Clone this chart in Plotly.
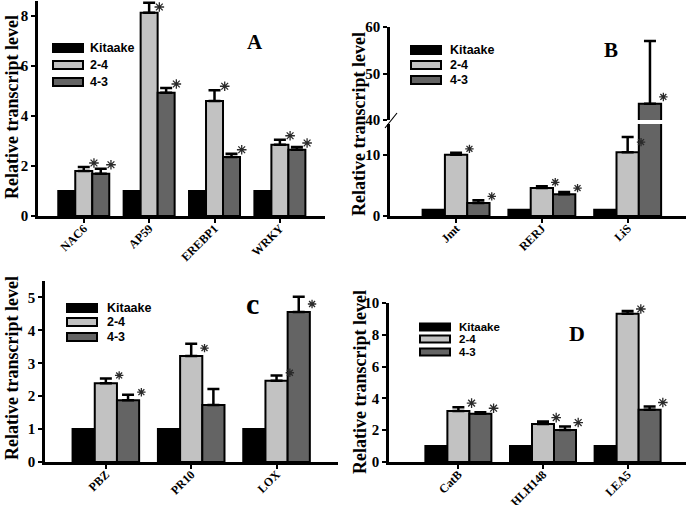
import plotly.graph_objects as go

W, H = 688, 505
SERIES = ["Kitaake", "2-4", "4-3"]
COLORS = ["#000000", "#c2c2c2", "#646464"]

# Panel A
A_GENES = ["NAC6", "AP59", "EREBP1", "WRKY"]
A_KIT = [1, 1, 1, 1]
A_24 = [1.80, 8.13, 4.60, 2.85]
A_43 = [1.69, 4.93, 2.36, 2.65]
A_24_ERR = [0.16, 0.40, 0.43, 0.20]
A_43_ERR = [0.20, 0.19, 0.13, 0.11]
A_SIG24 = [1, 1, 1, 1]
A_SIG43 = [1, 1, 1, 1]
A_YTICKS = [0, 2, 4, 6, 8]

# Panel B
B_GENES = ["Jmt", "RERJ", "LiS"]
B_KIT = [1, 1, 1]
B_24 = [10.0, 4.57, 10.4]
B_43 = [2.1, 3.53, 43.5]
B_24_ERR = [0.3, 0.27, 2.5]
B_43_ERR = [0.45, 0.37, 13.5]
B_SIG24 = [1, 1, 1]
B_SIG43 = [1, 1, 1]
B_YTICKS_LOW = [0, 10]
B_YTICKS_HIGH = [40, 50, 60]

# Panel C
C_GENES = ["PBZ", "PR10", "LOX"]
C_KIT = [1, 1, 1]
C_24 = [2.39, 3.22, 2.47]
C_43 = [1.88, 1.73, 4.56]
C_24_ERR = [0.15, 0.37, 0.16]
C_43_ERR = [0.16, 0.49, 0.46]
C_SIG24 = [1, 1, 1]
C_SIG43 = [1, 0, 1]
C_YTICKS = [0, 1, 2, 3, 4, 5]

# Panel D
D_GENES = ["CatB", "HLH148", "LEA5"]
D_KIT = [1, 1, 1]
D_24 = [3.21, 2.39, 9.33]
D_43 = [3.03, 2.02, 3.28]
D_24_ERR = [0.24, 0.15, 0.17]
D_43_ERR = [0.10, 0.21, 0.21]
D_SIG24 = [1, 1, 1]
D_SIG43 = [1, 1, 1]
D_YTICKS = [0, 2, 4, 6, 8, 10]


def X(px):
    return px / W


def Y(py):
    return 1 - py / H


SERIF = "Liberation Serif"
SANS = "Liberation Sans"
BW = 0.26
B_SPLIT = 15

fig = go.Figure()
annotations = []
shapes = []


def add_panel(xa, ya, genes, vals, errs, sigs, ygeo, star_clamp=None, star_size=8,
              star_pred=None):
    n = len(genes)
    (y0px, y1px), (r0, r1) = ygeo
    upp = (r1 - r0) / (y0px - y1px)  # data units per pixel
    sx, sy = [], []
    for j, (name, color) in enumerate(zip(SERIES, COLORS)):
        xs = [i + (j - 1) * BW for i in range(n)]
        e = errs[j]
        fig.add_trace(go.Bar(
            x=xs, y=vals[j], width=BW, name=name, showlegend=False,
            marker=dict(color=color, line=dict(color="black", width=2)),
            error_y=dict(type="data", symmetric=False, array=e if e else [0] * n,
                         arrayminus=[0] * n, visible=bool(e), color="black",
                         thickness=2.5, width=6),
            xaxis=xa, yaxis=ya,
        ))
        if sigs[j]:
            for i in range(n):
                if not sigs[j][i]:
                    continue
                ee = e[i]
                if star_clamp is not None:
                    ee = min(ee, star_clamp)
                yy = vals[j][i] + ee
                if star_pred is not None and not star_pred(yy):
                    continue
                yy = min(yy + 4 * upp, r1 - 6 * upp)
                sx.append(xs[i] + 0.6 * BW)
                sy.append(yy)
    if sx:
        fig.add_trace(go.Scatter(
            x=sx, y=sy, mode="markers", showlegend=False, xaxis=xa, yaxis=ya,
            marker=dict(symbol="asterisk-open", size=star_size, color="#2a2a2a",
                        line=dict(color="#2a2a2a", width=1.3)),
            cliponaxis=False,
        ))


def legend(x0, rows, text_x, size=12.5, sw_h=8):
    for k, (name, color) in enumerate(zip(SERIES, COLORS)):
        yc = rows[k]
        shapes.append(dict(type="rect", xref="paper", yref="paper",
                           x0=X(x0), x1=X(x0 + 30), y0=Y(yc + sw_h / 2), y1=Y(yc - sw_h / 2),
                           fillcolor=color, line=dict(color="black", width=2)))
        annotations.append(dict(x=X(text_x), y=Y(yc), xref="paper", yref="paper",
                                text=name, showarrow=False, xanchor="left", yanchor="middle",
                                font=dict(family=SANS, size=size, color="black", weight="bold")))


def ytitle(xc, yc, size=18):
    annotations.append(dict(x=X(xc), y=Y(yc), xref="paper", yref="paper",
                            text="Relative transcript level", textangle=-90, showarrow=False,
                            xanchor="center", yanchor="middle",
                            font=dict(family=SERIF, size=size, color="black", weight="bold")))


def letter(xc, yc, t, size):
    annotations.append(dict(x=X(xc), y=Y(yc), xref="paper", yref="paper", text=t,
                            showarrow=False, xanchor="center", yanchor="middle",
                            font=dict(family=SERIF, size=size, color="black", weight="bold")))


def xax(domain, rng, genes, visible=True, anchor=None):
    return dict(domain=domain, range=rng, tickvals=list(range(len(genes))), ticktext=genes,
                tickangle=-45, showline=visible, linewidth=2.5, linecolor="black",
                ticks="outside" if visible else "", ticklen=4, tickwidth=2, tickcolor="black",
                showticklabels=visible, showgrid=False, zeroline=False, anchor=anchor,
                automargin=False, ticklabelstandoff=-6,
                tickfont=dict(family=SERIF, size=12, color="black", weight="bold"))


def yax(domain, rng, tickvals, anchor):
    return dict(domain=domain, range=rng, tickvals=tickvals, showline=True, linewidth=2.5,
                linecolor="black", ticks="outside", ticklen=4, tickwidth=2, tickcolor="black",
                showgrid=False, zeroline=False, anchor=anchor, automargin=False,
                tickfont=dict(family=SERIF, size=15, color="black", weight="bold"))


# axis geometry: (pixel bottom, pixel top), (range low, range high)
A_Y = ((216, 1), (0, 8.6))
B_YL = ((216, 124), (0, B_SPLIT))
B_YH = ((120, 27), (40, 60))
C_Y = ((462, 281), (0, 5.5))
D_Y = ((462, 303), (0, 10))

add_panel("x", "y", A_GENES, [A_KIT, A_24, A_43], [None, A_24_ERR, A_43_ERR],
          [None, A_SIG24, A_SIG43], A_Y, star_size=8)
add_panel("x2", "y2", B_GENES, [B_KIT, B_24, B_43], [None, B_24_ERR, B_43_ERR],
          [None, B_SIG24, B_SIG43], B_YL, star_clamp=1.0, star_size=7,
          star_pred=lambda v: v <= B_SPLIT)
add_panel("x3", "y3", B_GENES, [B_KIT, B_24, B_43], [None, B_24_ERR, B_43_ERR],
          [None, B_SIG24, B_SIG43], B_YH, star_clamp=0.6, star_size=7,
          star_pred=lambda v: v > B_SPLIT)
add_panel("x4", "y4", C_GENES, [C_KIT, C_24, C_43], [None, C_24_ERR, C_43_ERR],
          [None, C_SIG24, C_SIG43], C_Y, star_clamp=0.12, star_size=7)
add_panel("x5", "y5", D_GENES, [D_KIT, D_24, D_43], [None, D_24_ERR, D_43_ERR],
          [None, D_SIG24, D_SIG43], D_Y, star_size=8)


def ydom(g):
    return [Y(g[0][0]), Y(g[0][1])]


layout = dict(
    width=W, height=H, autosize=False, margin=dict(l=0, r=0, t=0, b=0),
    paper_bgcolor="white", plot_bgcolor="white", showlegend=False, barmode="overlay",
    xaxis=xax([X(38), X(325)], [-0.70, 3.69], A_GENES, anchor="y"),
    yaxis=yax(ydom(A_Y), list(A_Y[1]), A_YTICKS, "x"),
    xaxis2=xax([X(390), X(686)], [-0.77, 2.68], B_GENES, anchor="y2"),
    yaxis2=yax(ydom(B_YL), list(B_YL[1]), B_YTICKS_LOW, "x2"),
    xaxis3=xax([X(390), X(686)], [-0.77, 2.68], B_GENES, visible=False, anchor="y3"),
    yaxis3=yax(ydom(B_YH), list(B_YH[1]), B_YTICKS_HIGH, "x3"),
    xaxis4=xax([X(45), X(338)], [-0.713, 2.72], C_GENES, anchor="y4"),
    yaxis4=yax(ydom(C_Y), list(C_Y[1]), C_YTICKS, "x4"),
    xaxis5=xax([X(389), X(686)], [-0.82, 2.69], D_GENES, anchor="y5"),
    yaxis5=yax(ydom(D_Y), list(D_Y[1]), D_YTICKS, "x5"),
)

# break mark on panel B axis
shapes.append(dict(type="line", xref="paper", yref="paper", x0=X(385), y0=Y(128),
                   x1=X(397), y1=Y(113), line=dict(color="black", width=1.2)))

legend(53, [48, 65, 82], 88)
legend(411, [50, 65, 80], 448)
legend(67, [308, 322, 337], 105)
legend(420, [327, 339, 352], 457, size=11.5, sw_h=7)

ytitle(12, 107)
ytitle(359, 124)
ytitle(12, 368)
ytitle(360, 382)

letter(255, 42, "A", 21)
letter(611, 50, "B", 21)
letter(252, 303, "c", 30)
letter(577, 333, "D", 22)

layout["annotations"] = annotations
layout["shapes"] = shapes
fig.update_layout(**layout)
fig.write_html("out.html", config={"displayModeBar": False},
               post_script="document.body.style.margin='0';")
